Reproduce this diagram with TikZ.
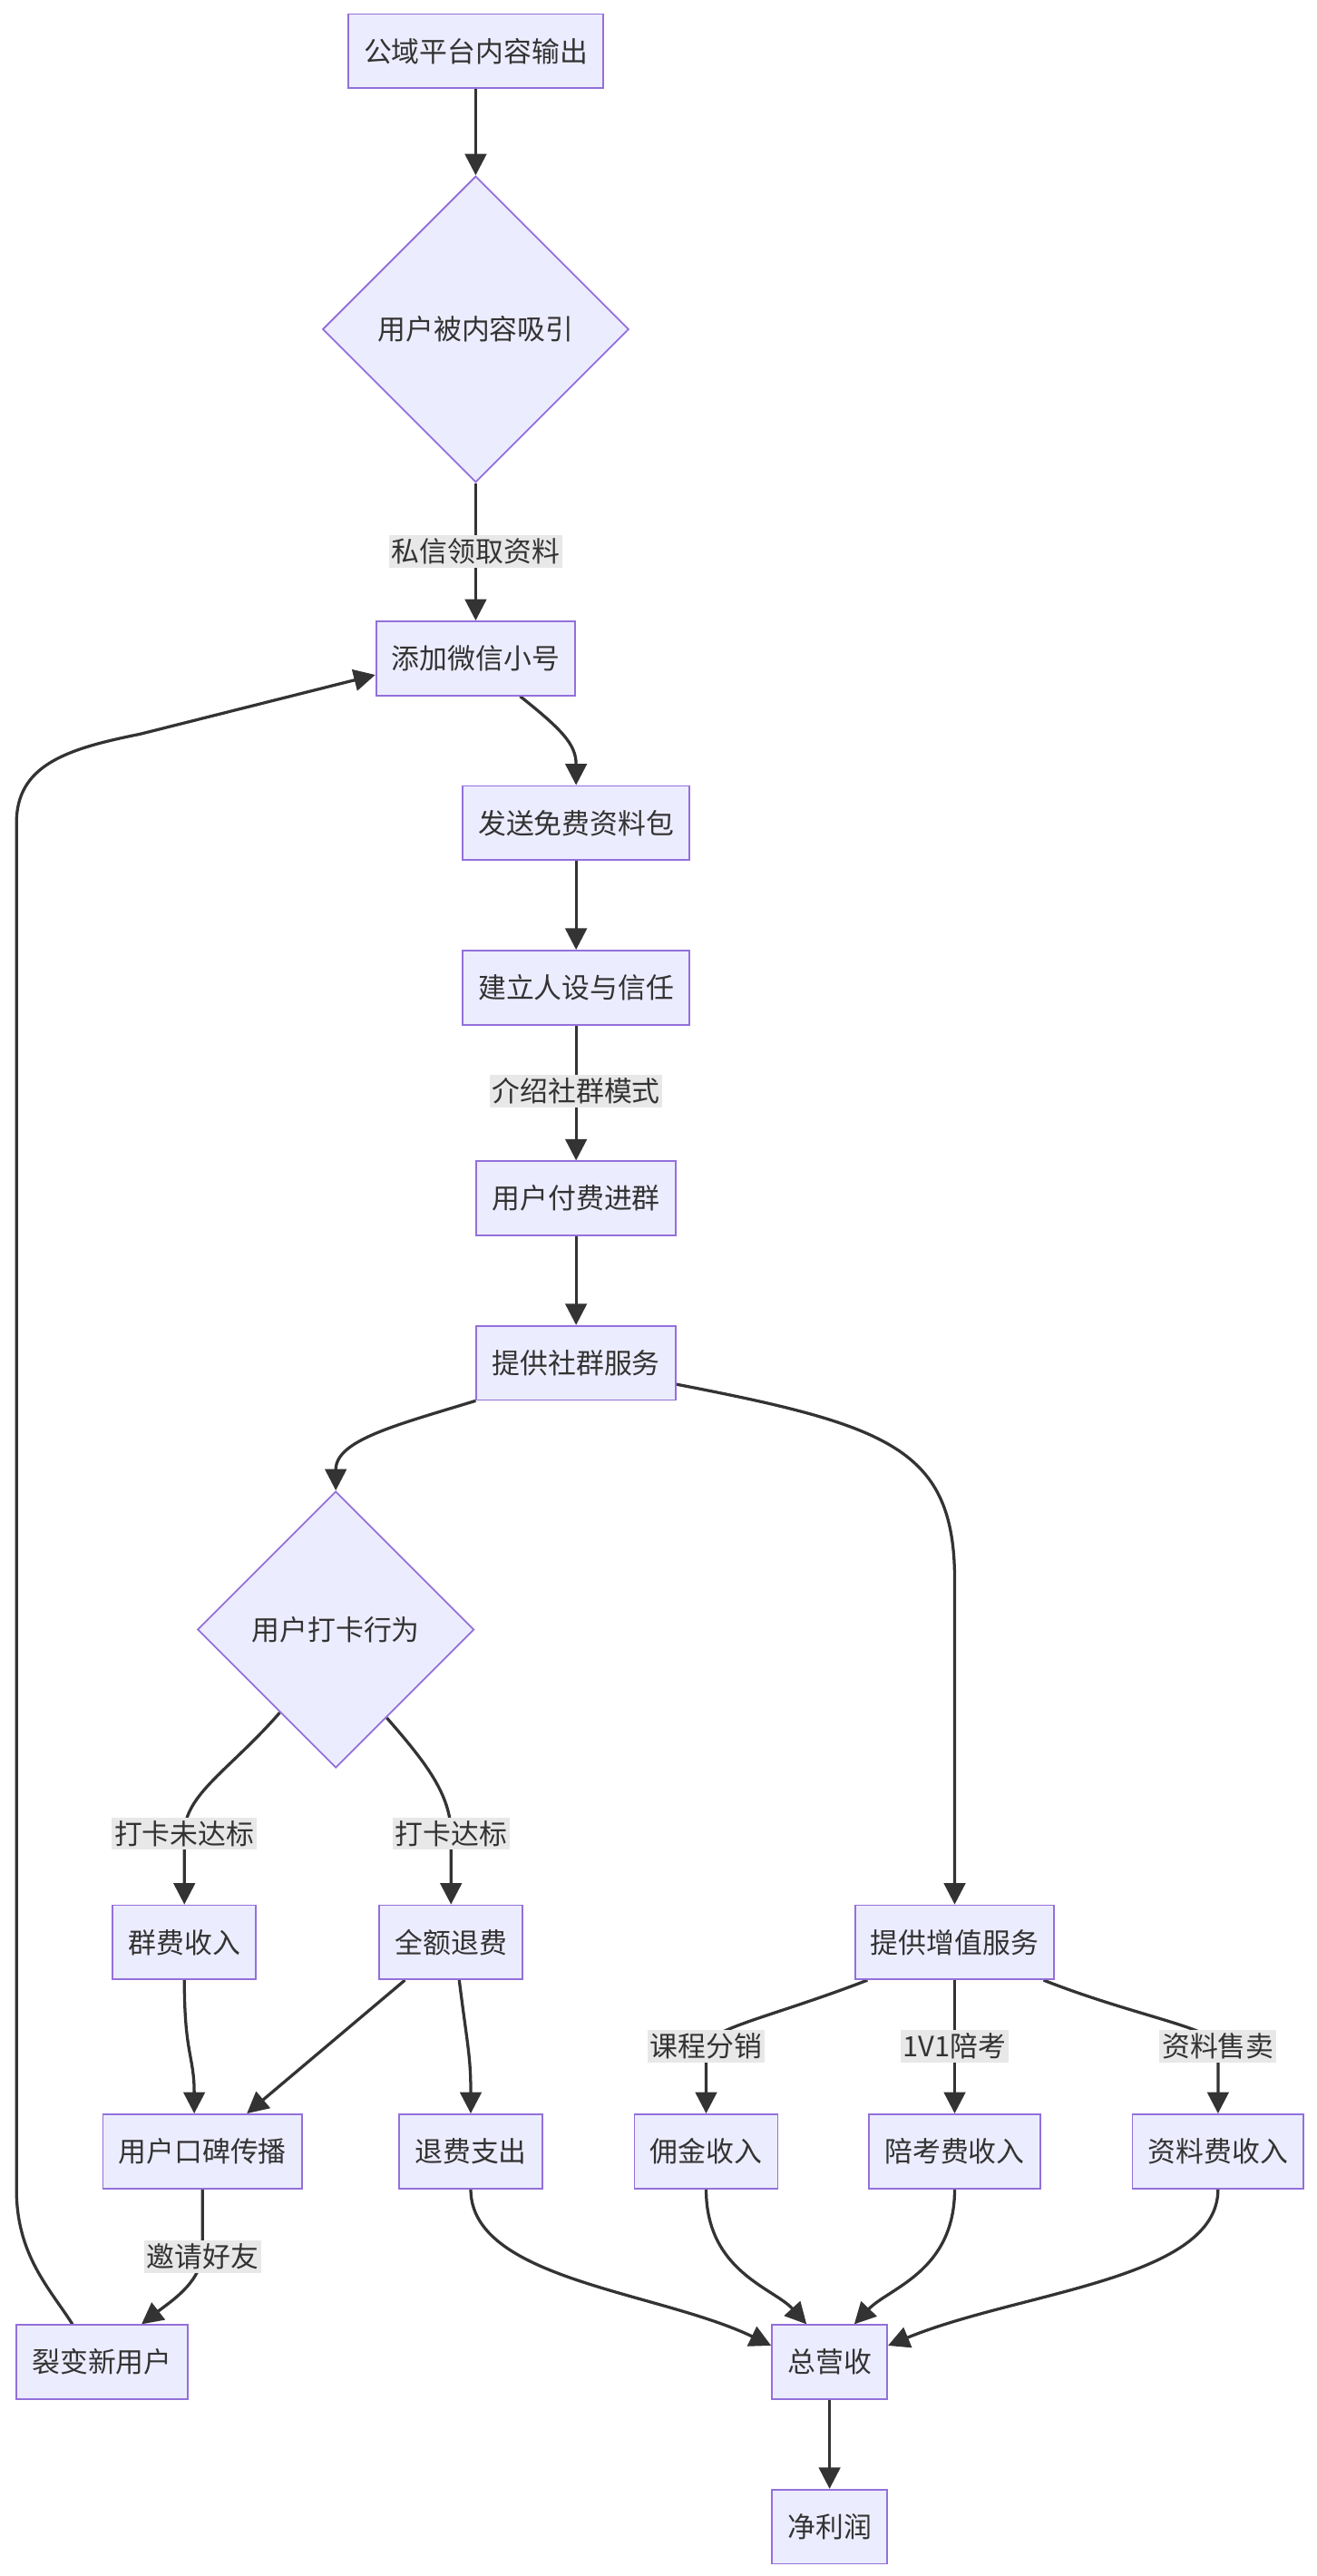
\documentclass[tikz,border=0pt]{standalone}
\usepackage{fontspec}
\newfontfamily\cjk{Noto Sans CJK SC}
\usetikzlibrary{shapes.geometric,arrows.meta,backgrounds}
\definecolor{boxfill}{HTML}{ECECFF}
\definecolor{boxline}{HTML}{9370DB}
\definecolor{ink}{HTML}{333333}
\definecolor{lblfill}{HTML}{E8E8E8}
\tikzset{
  box/.style={draw=boxline,fill=boxfill,line width=1pt,text=ink,minimum height=45pt,
    inner xsep=9.5pt,font={\cjk\fontsize{17}{20}\selectfont}},
  choice/.style={diamond,aspect=1,draw=boxline,fill=boxfill,line width=1pt,text=ink,
    inner sep=0pt,font={\cjk\fontsize{17}{20}\selectfont}},
  lbl/.style={fill=lblfill,text=ink,inner xsep=1.5pt,inner ysep=2pt,
    font={\cjk\fontsize{17}{20}\selectfont}},
  flow/.style={draw=ink,line width=1.8pt,-{Triangle[length=13pt,width=13pt]}}
}
\begin{document}
\begin{tikzpicture}[x=1pt,y=-1pt]
  \useasboundingbox (0,0) rectangle (800,1565);
  \node[box] (src) at (289,31) {公域平台内容输出};
  \node[choice,minimum size=186pt] (attract) at (289,200) {用户被内容吸引};
  \node[box] (addwx) at (289,400) {添加微信小号};
  \node[box] (sendpkg) at (350,500) {发送免费资料包};
  \node[box] (trust) at (350,600) {建立人设与信任};
  \node[box] (payjoin) at (350,728) {用户付费进群};
  \node[box] (service) at (350,828) {提供社群服务};
  \node[choice,minimum size=168pt] (checkin) at (204,990) {用户打卡行为};
  \node[box] (feein) at (112,1180) {群费收入};
  \node[box] (refund) at (274,1180) {全额退费};
  \node[box] (valueadd) at (580,1180) {提供增值服务};
  \node[box] (wom) at (123,1307) {用户口碑传播};
  \node[box] (refundout) at (286,1307) {退费支出};
  \node[box] (commission) at (429,1307) {佣金收入};
  \node[box] (tutorfee) at (580,1307) {陪考费收入};
  \node[box] (docfee) at (740,1307) {资料费收入};
  \node[box] (fission) at (62,1435) {裂变新用户};
  \node[box] (revenue) at (504,1435) {总营收};
  \node[box] (profit) at (504,1535) {净利润};

  \node[lbl] (dm) at (289,335) {私信领取资料};
  \node[lbl] (intro) at (350,663) {介绍社群模式};
  \node[lbl] (miss) at (112,1114) {打卡未达标};
  \node[lbl] (hit) at (274,1114) {打卡达标};
  \node[lbl] (course) at (429,1243) {课程分销};
  \node[lbl] (tutor) at (580,1243) {1V1陪考};
  \node[lbl] (docs) at (740,1243) {资料售卖};
  \node[lbl] (invite) at (123,1371) {邀请好友};

  \begin{scope}[on background layer]
    \fill[white] (0,0) rectangle (800,1565);
    \draw[flow] (src) -- (attract);
    \draw[flow] (attract) -- (dm.center) -- (addwx);
    \draw[flow] ([xshift=27pt]addwx.south) .. controls +(25,20) and +(0,-25) .. (sendpkg.north);
    \draw[flow] (sendpkg) -- (trust);
    \draw[flow] (trust) -- (intro.center) -- (payjoin);
    \draw[flow] (payjoin) -- (service);
    \draw[flow] (service.south west) .. controls (240,866) and (204,875) .. (checkin.north);
    \draw[flow] ([yshift=-13pt]service.east) .. controls (540,866) and (580,880) .. (580,960) -- (valueadd.north);
    \draw[flow] (checkin.-124) .. controls (140,1075) and (112,1090) .. (miss.center) -- (feein);
    \draw[flow] (checkin.-60) .. controls (258,1070) and (274,1090) .. (hit.center) -- (refund);
    \draw[flow] (feein.south) .. controls +(0,45) and +(0,-35) .. ([xshift=-5pt]wom.north);
    \draw[flow] ([xshift=-28pt]refund.south) -- ([xshift=27pt]wom.north);
    \draw[flow] ([xshift=5pt]refund.south) .. controls +(5,40) and +(0,-35) .. (refundout.north);
    \draw[flow] ([xshift=-53pt]valueadd.south) .. controls (470,1225) and (432,1232) .. (course.center) -- (commission);
    \draw[flow] (valueadd) -- (tutor.center) -- (tutorfee);
    \draw[flow] ([xshift=54pt]valueadd.south) .. controls (690,1225) and (738,1232) .. (docs.center) -- (docfee);
    \draw[flow] (wom) -- (invite.center) .. controls (120,1388) and (104,1398) .. ([xshift=24pt]fission.north);
    \draw[flow] (refundout.south) .. controls +(0,55) and (400,1392) .. ([yshift=10pt]revenue.west);
    \draw[flow] (commission.south) .. controls +(0,50) and (470,1390) .. ([xshift=-14pt]revenue.north);
    \draw[flow] (tutorfee.south) .. controls +(0,50) and (540,1390) .. ([xshift=15pt]revenue.north);
    \draw[flow] (docfee.south) .. controls +(0,55) and (620,1392) .. ([yshift=10pt]revenue.east);
    \draw[flow] (revenue) -- (profit);
    \draw[flow] ([xshift=-18pt]fission.north) .. controls (30,1390) and (10,1370) .. (10,1330)
      -- (10,500) .. controls (10,465) and (40,455) .. (85,446) -- ([yshift=-10pt]addwx.west);
  \end{scope}
\end{tikzpicture}
\end{document}
